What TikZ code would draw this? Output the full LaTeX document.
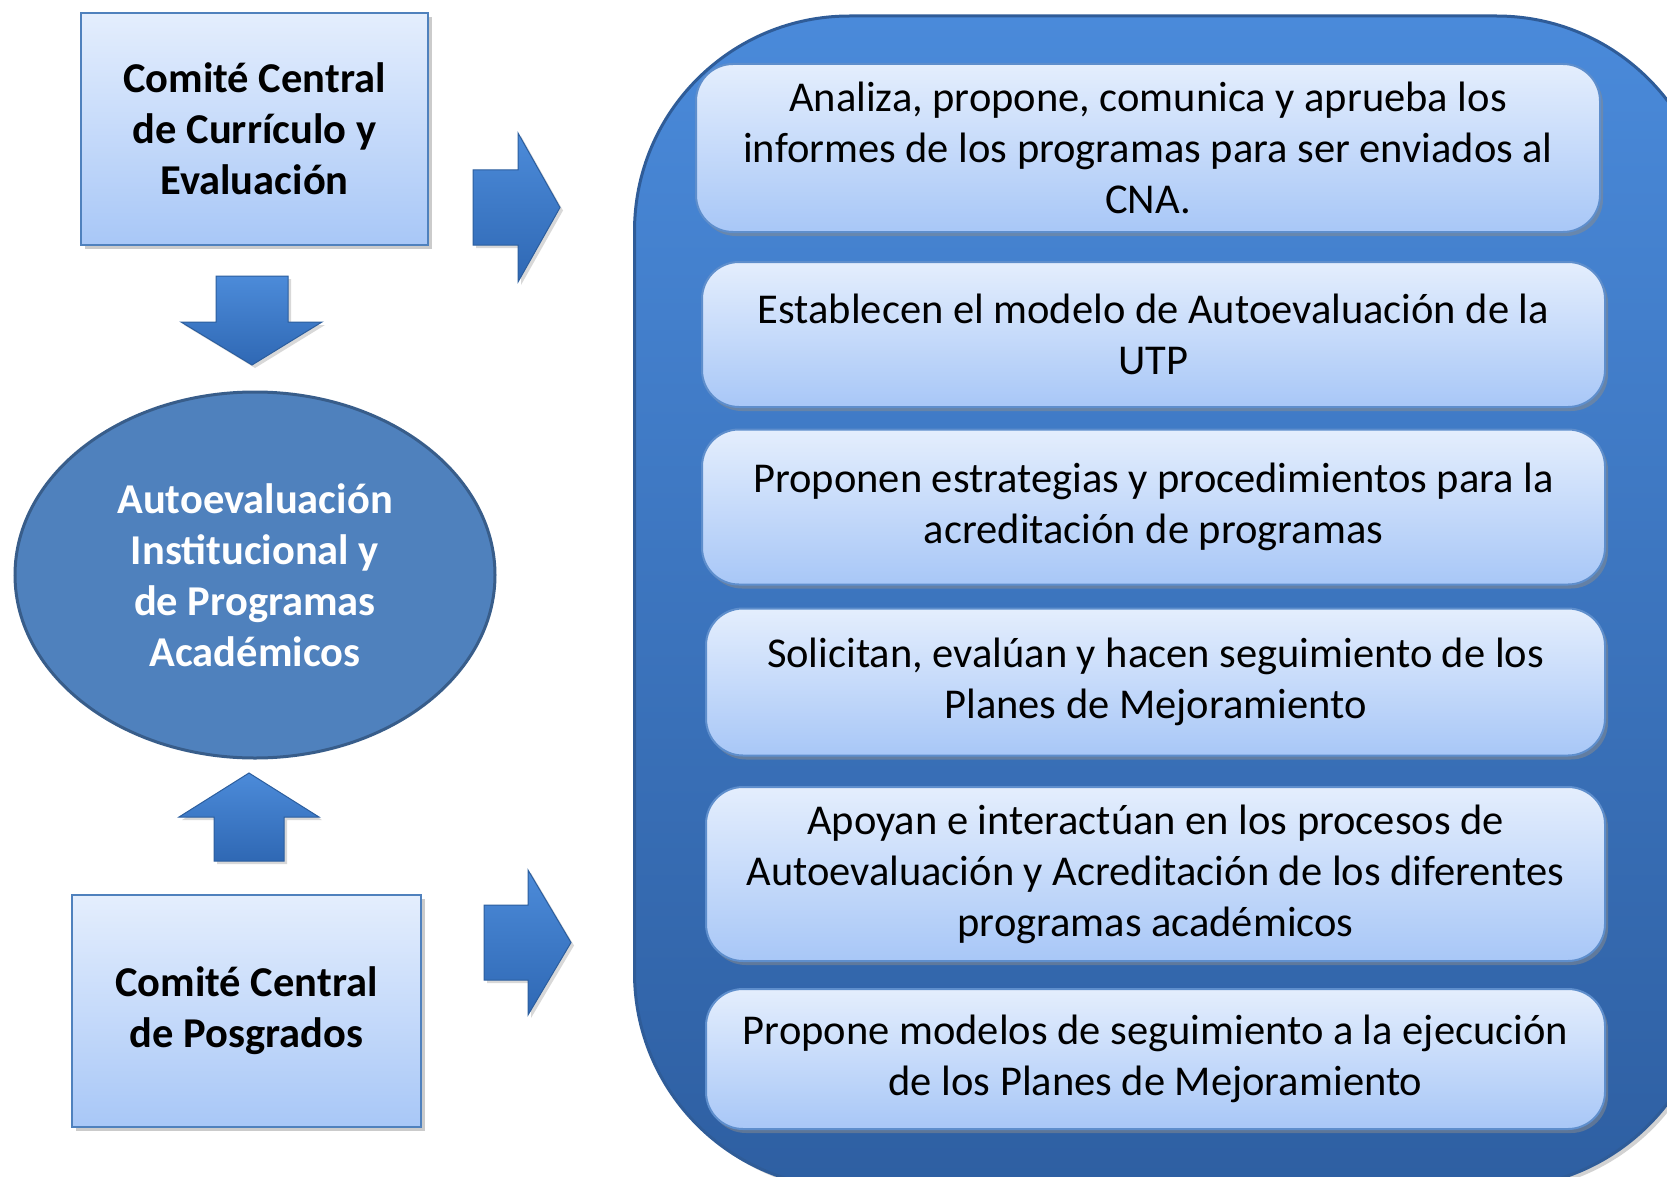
\documentclass[tikz,border=0pt]{standalone}
\usepackage{fontspec}
\setmainfont{Carlito}
\usetikzlibrary{shapes.geometric,shadows}
\definecolor{panelTop}{HTML}{4A8ADA}
\definecolor{panelBot}{HTML}{2E5FA2}
\definecolor{panelEdge}{HTML}{2F5C98}
\definecolor{boxTop}{HTML}{E4EEFD}
\definecolor{boxBot}{HTML}{A8C7F7}
\definecolor{boxEdge}{HTML}{5E8ECC}
\definecolor{leftEdge}{HTML}{4F81BD}
\definecolor{ellFill}{HTML}{4F81BD}
\definecolor{ellEdge}{HTML}{385D8A}
\definecolor{arrTop}{HTML}{4C8BD9}
\definecolor{arrBot}{HTML}{2F68B4}
\definecolor{arrEdge}{HTML}{2C5E9E}
\tikzset{
  txt/.style={font=\fontsize{42.5}{51}\selectfont, align=center},
  panelbox/.style={draw=panelEdge, line width=3pt, top color=panelTop, bottom color=panelBot,
    rounded corners=215pt, minimum width=1077pt, minimum height=1172pt,
    drop shadow={shadow xshift=4pt, shadow yshift=-4pt, fill=black!35}},
  itembox/.style={txt, draw=boxEdge, line width=2pt, top color=boxTop, bottom color=boxBot,
    rounded corners=37pt, inner sep=0pt,
    drop shadow={shadow xshift=3pt, shadow yshift=-4pt, fill=black!45}},
  sidebox/.style={txt, font=\fontsize{42.5}{51}\selectfont\bfseries, draw=leftEdge, line width=2.5pt,
    top color=boxTop, bottom color=boxBot, inner sep=0pt,
    drop shadow={shadow xshift=4pt, shadow yshift=-4pt, fill=black!40}},
  blockarrow/.style={draw=arrEdge, line width=1pt, top color=arrTop, bottom color=arrBot,
    drop shadow={shadow xshift=3pt, shadow yshift=-3pt, fill=black!30}},
}
\begin{document}
\begin{tikzpicture}[x=1pt,y=-1pt]
\useasboundingbox (0,0) rectangle (1667,1177);
\fill[white] (0,0) rectangle (1667,1177);

% big panel
\node[panelbox] (panel) at (1173,602) {};

% item boxes
\node[itembox, minimum width=904pt, minimum height=168pt] (b1) at (1148,148)
  {Analiza, propone, comunica y aprueba los\\informes de los programas para ser enviados al\\CNA.};
\node[itembox, minimum width=903pt, minimum height=145pt] (b2) at (1153.5,334.5)
  {Establecen el modelo de Autoevaluación de la\\UTP};
\node[itembox, minimum width=903pt, minimum height=155pt] (b3) at (1153.5,507)
  {Proponen estrategias y procedimientos para la\\acreditación de programas};
\node[itembox, minimum width=899pt, minimum height=147pt] (b4) at (1155.5,682)
  {Solicitan, evalúan y hacen seguimiento de los\\Planes de Mejoramiento};
\node[itembox, minimum width=899pt, minimum height=174pt] (b5) at (1155.5,874)
  {Apoyan e interactúan en los procesos de\\Autoevaluación y Acreditación de los diferentes\\programas académicos};
\node[itembox, minimum width=899pt, minimum height=140pt] (b6) at (1155.5,1059)
  {Propone modelos de seguimiento a la ejecución\\de los Planes de Mejoramiento};

% left boxes
\node[sidebox, minimum width=347pt, minimum height=232pt] (c1) at (254.5,129)
  {Comité Central\\de Currículo y\\Evaluación};
\node[sidebox, minimum width=349pt, minimum height=232pt] (c2) at (246.5,1011)
  {Comité Central\\de Posgrados};

% ellipse
\node[ellipse, draw=ellEdge, line width=3pt, fill=ellFill, minimum width=480pt, minimum height=366pt,
  txt, font=\fontsize{42.5}{51}\selectfont\bfseries, text=white, inner sep=0pt] (e) at (255,575)
  {Autoevaluación\\Institucional y\\de Programas\\Académicos};

% block arrows
\path[blockarrow] (473,170) -- (518,170) -- (518,133) -- (560,207.5) -- (518,282) -- (518,245) -- (473,245) -- cycle;
\path[blockarrow] (484,905) -- (528,905) -- (528,870) -- (571,942.5) -- (528,1015) -- (528,980) -- (484,980) -- cycle;
\path[blockarrow] (216,276) -- (288,276) -- (288,322) -- (322,322) -- (252,365) -- (181,322) -- (216,322) -- cycle;
\path[blockarrow] (214,861) -- (284,861) -- (284,817) -- (319,817) -- (249,773) -- (179,817) -- (214,817) -- cycle;
\end{tikzpicture}
\end{document}
